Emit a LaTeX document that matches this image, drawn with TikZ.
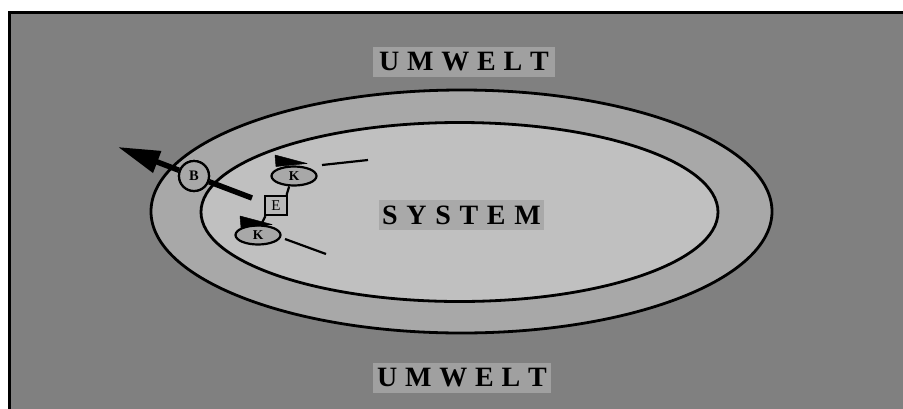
\documentclass[tikz,border=0pt]{standalone}
\usepackage{fontspec}
\setmainfont{Liberation Serif}
\usetikzlibrary{arrows.meta,shapes.geometric}
\definecolor{bggray}{HTML}{808080}
\definecolor{ringgray}{HTML}{A8A8A8}
\definecolor{coregray}{HTML}{C0C0C0}
\definecolor{labelgray}{HTML}{A0A0A0}
\definecolor{sysgray}{HTML}{A9A9A9}
\tikzset{
  bigellipse/.style={ellipse, draw=black, line width=2.8pt, inner sep=0pt},
  biglabel/.style={rectangle, inner sep=0pt, minimum height=30pt, font=\bfseries\fontsize{28}{28}\selectfont, text=black},
  kbox/.style={ellipse, draw=black, line width=2.2pt, fill=ringgray, minimum width=45pt, minimum height=19pt, inner sep=0pt, font=\bfseries\fontsize{13.5}{13.5}\selectfont},
  bcircle/.style={circle, draw=black, line width=2.2pt, fill=ringgray, minimum size=30pt, inner sep=0pt, font=\bfseries\fontsize{14.5}{14.5}\selectfont},
  ebox/.style={rectangle, draw=black, line width=2.2pt, fill=ringgray!80!white, minimum width=22pt, minimum height=19pt, inner sep=0pt, font=\fontsize{15}{15}\selectfont},
  thin/.style={draw=black, line width=2.2pt},
  flag/.style={fill=black, draw=black, line width=0.5pt, line join=round},
}
\begin{document}
\begin{tikzpicture}[x=1pt,y=-1pt]
\useasboundingbox (0,0) rectangle (903,408);
\fill[white] (0,0) rectangle (903,408);
\fill[bggray] (9,12) rectangle (906,411);
\draw[black, line width=3pt] (9,411) -- (9,12) -- (906,12);
% ellipses
\node[bigellipse, fill=ringgray, minimum width=621pt, minimum height=243pt] (outer) at (461.5,211.5) {};
\node[bigellipse, fill=coregray, minimum width=517pt, minimum height=179pt] (inner) at (459.5,212) {};
% labels
\node[biglabel, fill=labelgray, minimum width=182pt] (umtop) at (464,62) {U\kern7.8pt M\kern7.8pt W\kern7.8pt E\kern7.8pt L\kern7.8pt T};
\node[biglabel, fill=labelgray, minimum width=178pt] (umbot) at (462,377.5) {U\kern7.8pt M\kern7.8pt W\kern7.8pt E\kern7.8pt L\kern7.8pt T};
\node[biglabel, fill=sysgray, minimum width=165pt] (sys) at (461.5,215) {S\kern8.7pt Y\kern8.7pt S\kern8.7pt T\kern8.7pt E\kern8.7pt M};
% small parts
\coordinate (tip) at (118,147);
\coordinate (tail) at (252,198);
\node[bcircle] (B) at (194,176) {B};
\draw[black, line width=5.5pt] (B) -- (tail);
\draw[black, line width=5.5pt, -{Triangle[length=42pt,width=22pt]}] (B) -- (tip);
\node[bcircle] at (B) {B};
\node[kbox] (K1) at (294,176) {K};
\node[kbox] (K2) at (258,235) {K};
\node[ebox] (E) at (276,205.5) {E};
\draw[thin] (E.45) -- (K1.245);
\draw[thin] (E.225) -- (K2.73);
\fill[flag] (275,155) -- (307,163.5) -- (276,166.5) -- cycle;
\fill[flag] (240,216) -- (272,224.5) -- (241,227.5) -- cycle;
\coordinate (k1a) at (322,165);
\coordinate (k1b) at (368,160);
\coordinate (k2a) at (285,239);
\coordinate (k2b) at (326,254);
\draw[thin] (k1a) -- (k1b);
\draw[thin] (k2a) -- (k2b);
\end{tikzpicture}
\end{document}
